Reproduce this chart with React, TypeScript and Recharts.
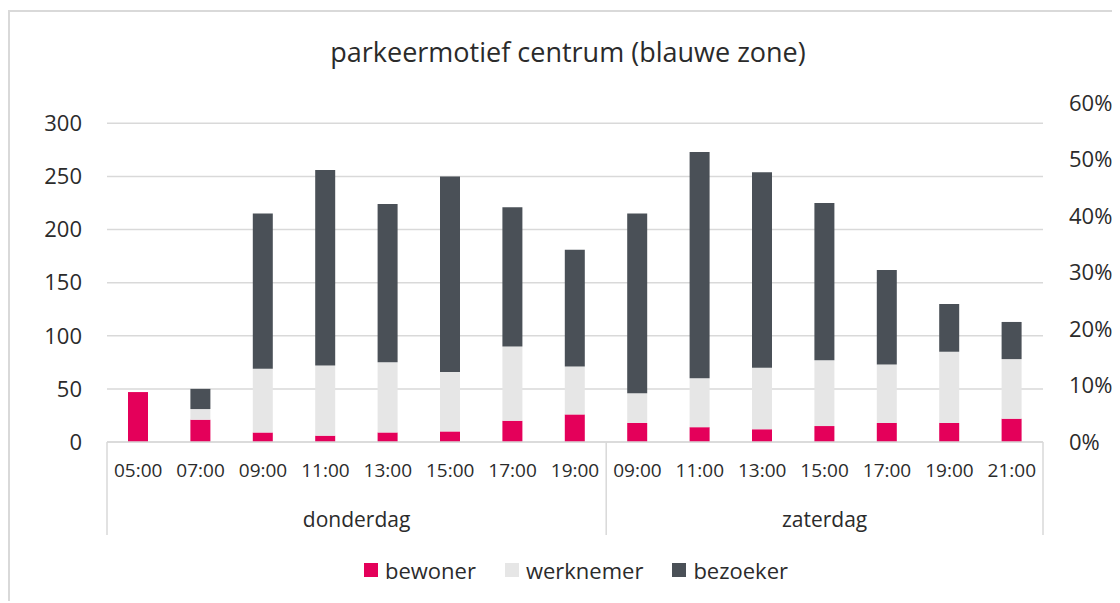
import React from 'react';
import { ComposedChart, Bar, Line, XAxis, YAxis, CartesianGrid, Legend } from 'recharts';

const times = ['05:00', '07:00', '09:00', '11:00', '13:00', '15:00', '17:00', '19:00', '09:00', '11:00', '13:00', '15:00', '17:00', '19:00', '21:00'];
const days = ['donderdag', 'donderdag', 'donderdag', 'donderdag', 'donderdag', 'donderdag', 'donderdag', 'donderdag', 'zaterdag', 'zaterdag', 'zaterdag', 'zaterdag', 'zaterdag', 'zaterdag', 'zaterdag'];
const bewoner = [47, 21, 9, 6, 9, 10, 20, 26, 18, 14, 12, 15, 18, 18, 22];
const werknemer = [0, 10, 60, 66, 66, 56, 70, 45, 28, 46, 58, 62, 55, 67, 56];
const bezoeker = [0, 19, 146, 184, 149, 184, 131, 110, 169, 213, 184, 148, 89, 45, 35];
const leftTicks = [0, 50, 100, 150, 200, 250, 300];
const rightTicks = [0, 0.1, 0.2, 0.3, 0.4, 0.5, 0.6];
const seriesNames = ['bewoner', 'werknemer', 'bezoeker'];

const COLORS = { bewoner: '#e4005a', werknemer: '#e6e6e6', bezoeker: '#4a5057' };
const TEXT = '#2b2b2b';
const LINE = '#d9d9d9';
const FONT = '"Open Sans", "Noto Sans", sans-serif';

const data = times.map((t, i) => ({
  key: `${days[i]} ${t}`,
  time: t,
  day: days[i],
  bewoner: bewoner[i],
  werknemer: werknemer[i],
  bezoeker: bezoeker[i],
}));

const TimeTick = (props: any) => {
  const { x, y, payload, index } = props;
  const half = payload && typeof payload.offset === 'number' && payload.offset > 0 ? payload.offset : 31.2;
  const els: any[] = [];
  els.push(
    <text key="t" x={x} y={y + 28} dy="0.355em" textAnchor="middle" fill={TEXT} fontSize={19} fontFamily={FONT}>
      {times[index]}
    </text>
  );
  const lineLen = 93;
  if (index === 0 || index === 8) {
    els.push(<line key="l" x1={x - half} x2={x - half} y1={y} y2={y + lineLen} stroke={LINE} strokeWidth={1.5} />);
  }
  if (index === times.length - 1) {
    els.push(<line key="r" x1={x + half} x2={x + half} y1={y} y2={y + lineLen} stroke={LINE} strokeWidth={1.5} />);
  }
  if (index === 3) {
    els.push(
      <text key="d" x={x + half} y={y + 78} dy="0.355em" textAnchor="middle" fill={TEXT} fontSize={21} fontFamily={FONT}>
        {days[0]}
      </text>
    );
  }
  if (index === 11) {
    els.push(
      <text key="d" x={x} y={y + 78} dy="0.355em" textAnchor="middle" fill={TEXT} fontSize={21} fontFamily={FONT}>
        {days[8]}
      </text>
    );
  }
  return <g>{els}</g>;
};

const LegendContent = () => (
  <div style={{ display: 'flex', justifyContent: 'center', alignItems: 'center', height: 40, fontFamily: FONT, fontSize: 22, color: TEXT, paddingLeft: 24, boxSizing: 'border-box' }}>
    {seriesNames.map((n, i) => (
      <div key={n} style={{ display: 'flex', alignItems: 'center', marginLeft: i === 0 ? 0 : 29 }}>
        <span style={{ display: 'inline-block', width: 14, height: 14, background: (COLORS as any)[n], marginRight: 7 }} />
        <span>{n}</span>
      </div>
    ))}
  </div>
);

export default function App() {
  return (
    <div style={{ position: 'relative', top: 2, width: 1112, height: 593 }}>
      <div style={{ position: 'absolute', left: 0, top: 0, width: 1112, height: 593, borderLeft: `2px solid ${LINE}`, borderTop: `2px solid ${LINE}`, boxSizing: 'border-box', pointerEvents: 'none' }} />
      <div style={{ position: 'absolute', left: 0, top: 23, width: 1120, textAlign: 'center', fontFamily: FONT, fontSize: 27, color: TEXT }}>
        parkeermotief centrum (blauwe zone)
      </div>
      <ComposedChart width={1112} height={593} data={data} margin={{ top: 93, right: 0, left: 0, bottom: 21 }} barSize={20}>
        <CartesianGrid vertical={false} stroke={LINE} strokeWidth={1.5} yAxisId="left" syncWithTicks />
        <XAxis
          dataKey="key"
          interval={0}
          height={100}
          tickSize={0}
          tickMargin={0}
          tick={<TimeTick />}
          axisLine={{ stroke: LINE, strokeWidth: 1.5 }}
          tickLine={false}
        />
        <YAxis
          yAxisId="left"
          orientation="left"
          width={99}
          domain={[0, 319.1]}
          ticks={leftTicks}
          allowDataOverflow
          axisLine={false}
          tickLine={false}
          tickSize={0}
          tickMargin={25}
          tick={{ fill: TEXT, fontSize: 22, fontFamily: FONT }}
        />
        <YAxis
          yAxisId="right"
          orientation="right"
          width={77}
          domain={[0, 0.6]}
          ticks={rightTicks}
          allowDataOverflow
          axisLine={false}
          tickLine={false}
          tickSize={0}
          tickMargin={26}
          tickFormatter={(v: number) => `${Math.round(v * 100)}%`}
          tick={{ fill: TEXT, fontSize: 22, fontFamily: FONT, textAnchor: 'start' }}
        />
        <Legend verticalAlign="bottom" content={<LegendContent />} wrapperStyle={{ top: 540, left: 0, width: 1112 }} />
        <Bar yAxisId="left" dataKey="bewoner" stackId="a" fill={COLORS.bewoner} isAnimationActive={false} />
        <Bar yAxisId="left" dataKey="werknemer" stackId="a" fill={COLORS.werknemer} isAnimationActive={false} />
        <Bar yAxisId="left" dataKey="bezoeker" stackId="a" fill={COLORS.bezoeker} isAnimationActive={false} />
        <Line yAxisId="right" dataKey="aandeel" stroke="none" dot={false} activeDot={false} legendType="none" isAnimationActive={false} />
      </ComposedChart>
    </div>
  );
}
